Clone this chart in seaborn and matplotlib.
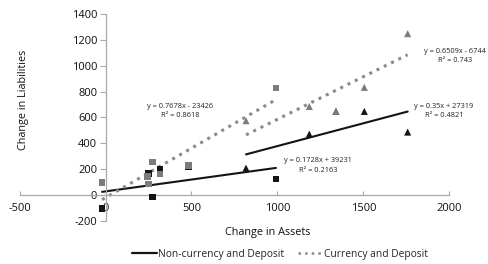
import matplotlib
matplotlib.use("Agg")
import matplotlib.pyplot as plt
import seaborn as sns
import pandas as pd
from matplotlib.lines import Line2D

# Non-currency and Deposit (black) - squares group
nc_sq_x = [-20, 249, 274, 317, 484, 991]
nc_sq_y = [-105, 165, -16, 196, 220, 122]
# Non-currency and Deposit (black) - triangles group
nc_tr_x = [817, 1185, 1340, 1505, 1757]
nc_tr_y = [207, 470, 646, 646, 486]
# Currency and Deposit (gray) - squares group
c_sq_x = [-20, 245, 249, 274, 317, 484, 991]
c_sq_y = [95, 142, 83, 256, 163, 227, 827]
# Currency and Deposit (gray) - triangles group
c_tr_x = [817, 1185, 1340, 1505, 1757]
c_tr_y = [574, 684, 646, 832, 1248]

eq_texts = ["y = 0.7678x - 23426\nR² = 0.8618",
            "y = 0.6509x - 6744\nR² = 0.743",
            "y = 0.35x + 27319\nR² = 0.4821",
            "y = 0.1728x + 39231\nR² = 0.2163"]

x_ticks = [-500, 0, 500, 1000, 1500, 2000]
y_ticks = [-200, 0, 200, 400, 600, 800, 1000, 1200, 1400]

sns.set_style("white")
plt.rcParams['font.family'] = ['Open Sans', 'DejaVu Sans']

BLACK = "#141414"
GRAY = "#7c7c7c"
DOT = "#8a8a8a"

fig = plt.figure(figsize=(4.88, 2.64), dpi=100)
ax = fig.add_axes([0.04, 0.164, 0.881, 0.783])

groups = [
    (nc_sq_x, nc_sq_y, BLACK, "s", "-", BLACK),
    (nc_tr_x, nc_tr_y, BLACK, "^", "-", BLACK),
    (c_sq_x, c_sq_y, GRAY, "s", ":", DOT),
    (c_tr_x, c_tr_y, GRAY, "^", ":", DOT),
]

for gx, gy, mc, mk, ls, lc in groups:
    df = pd.DataFrame({"x": gx, "y": gy})
    sns.regplot(data=df, x="x", y="y", ax=ax, scatter=False, ci=None,
                truncate=True,
                line_kws=dict(color=lc, lw=1.5 if ls == "-" else 2.2,
                              linestyle=ls, zorder=2))
for gx, gy, mc, mk, ls, lc in groups:
    df = pd.DataFrame({"x": gx, "y": gy})
    sns.scatterplot(data=df, x="x", y="y", ax=ax, marker=mk, color=mc,
                    s=26 if mk == "^" else 22, edgecolor="none", zorder=3)

ax.set_xlim(-500, 2000)
ax.set_ylim(-200, 1400)
ax.set_xticks(x_ticks)
ax.set_yticks(y_ticks)
ax.set_xticklabels([str(t) for t in x_ticks])
ax.set_yticklabels([str(t) for t in y_ticks])

for s in ["top", "right"]:
    ax.spines[s].set_visible(False)
ax.spines["left"].set_position(("data", 0))
ax.spines["bottom"].set_position(("data", 0))
for s in ["left", "bottom"]:
    ax.spines[s].set_color("#a8a8a8")
    ax.spines[s].set_linewidth(0.9)

ax.tick_params(axis="x", direction="in", length=3, color="#a8a8a8",
               labelsize=8, pad=6, labelcolor="#111111")
ax.tick_params(axis="y", direction="out", length=4, color="#a8a8a8",
               labelsize=8, pad=2, labelcolor="#111111")
ax.tick_params(axis="both", bottom=True, left=True)

ax.set_xlabel("Change in Assets", fontsize=7.8, color="#111111")
ax.set_ylabel("Change in Liabilities", fontsize=7.8, color="#111111")
ax.xaxis.set_label_coords(0.577, -0.03)
ax.yaxis.set_label_coords(0.022, 0.585)

eq_pos = [(433, 650), (2032, 1076), (1968, 648), (1235, 228)]
for txt, (px, py) in zip(eq_texts, eq_pos):
    ax.text(px, py, txt, fontsize=5.3, ha="center", va="center",
            color="#222222", linespacing=1.5)

handles = [Line2D([0], [0], color=BLACK, lw=1.6, linestyle="-"),
           Line2D([0], [0], color=DOT, lw=1.8, linestyle=":")]
fig.legend(handles, ["Non-currency and Deposit", "Currency and Deposit"],
           loc="center", bbox_to_anchor=(0.574, 0.036), ncol=2,
           frameon=False, fontsize=7.4, handlelength=2.4, handletextpad=0.15,
           columnspacing=1.3)

fig.savefig("out.png", dpi=100)
